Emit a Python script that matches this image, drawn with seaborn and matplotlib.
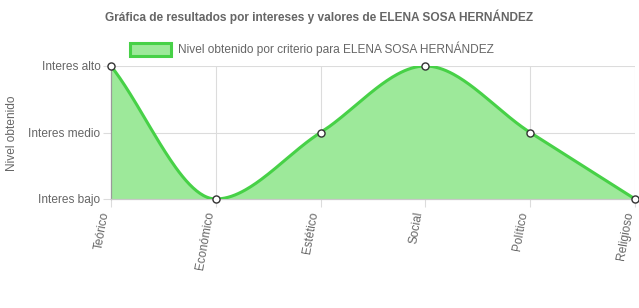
import numpy as np
import pandas as pd
import matplotlib
matplotlib.use("Agg")
import matplotlib.pyplot as plt
import seaborn as sns

title = "Gráfica de resultados por intereses y valores de ELENA SOSA HERNÁNDEZ"
series_name = "Nivel obtenido por criterio para ELENA SOSA HERNÁNDEZ"
categories = ["Teórico", "Económico", "Estético", "Social", "Político", "Religioso"]
values = [3, 1, 2, 3, 2, 1]
level_values = [1, 2, 3]
level_labels = ["Interes bajo", "Interes medio", "Interes alto"]
y_label = "Nivel obtenido"

LINE = "#47d147"
FILL = "#9de99a"
GRID = "#dcdcdc"
TXT = "#666666"
FS = 8.6


def monotone_curve(xs, ys, n=60):
    """Chart.js-style monotone cubic interpolation."""
    xs = np.asarray(xs, float)
    ys = np.asarray(ys, float)
    k = len(xs)
    delta = np.diff(ys) / np.diff(xs)
    m = np.zeros(k)
    m[0] = delta[0]
    m[-1] = delta[-1]
    for i in range(1, k - 1):
        if delta[i - 1] * delta[i] <= 0:
            m[i] = 0
        else:
            m[i] = (delta[i - 1] + delta[i]) / 2
    for i in range(k - 1):
        if delta[i] == 0:
            m[i] = m[i + 1] = 0
            continue
        a = m[i] / delta[i]
        b = m[i + 1] / delta[i]
        s = a * a + b * b
        if s > 9:
            t = 3 / np.sqrt(s)
            m[i] = a * t * delta[i]
            m[i + 1] = b * t * delta[i]
    ox, oy = [], []
    for i in range(k - 1):
        h = xs[i + 1] - xs[i]
        t = np.linspace(0, 1, n, endpoint=(i == k - 2))
        h00 = 2 * t**3 - 3 * t**2 + 1
        h10 = t**3 - 2 * t**2 + t
        h01 = -2 * t**3 + 3 * t**2
        h11 = t**3 - t**2
        ox.append(xs[i] + t * h)
        oy.append(h00 * ys[i] + h10 * h * m[i] + h01 * ys[i + 1] + h11 * h * m[i + 1])
    return np.concatenate(ox), np.concatenate(oy)


sns.set_theme(style="white")
plt.rcParams["font.family"] = ["Liberation Sans", "DejaVu Sans"]

fig = plt.figure(figsize=(6.39, 3.08), dpi=100)
ax = fig.add_axes([111 / 639, 1 - 199 / 308, (635 - 111) / 639, (199 - 66) / 308])

xpos = np.arange(len(categories))
cx, cy = monotone_curve(xpos, values)
curve = pd.DataFrame({"x": cx, "y": cy})
pts = pd.DataFrame({"x": xpos, "y": values})

ax.fill_between(cx, cy, 1, color=FILL, lw=0, zorder=2)
sns.lineplot(data=curve, x="x", y="y", ax=ax, color=LINE, lw=2.2, zorder=3,
             estimator=None, sort=False)
sns.scatterplot(data=pts, x="x", y="y", ax=ax, s=26, color="white",
                edgecolor="#333333", linewidth=1.0, zorder=5, clip_on=False)

ax.set_xlim(0, len(categories) - 1)
ax.set_ylim(1, 3)
ax.set_xticks(xpos)
ax.set_xticklabels(categories, rotation=80, ha="right", va="bottom",
                   rotation_mode="anchor", color=TXT, fontsize=FS)
ax.set_yticks(level_values)
ax.set_yticklabels(level_labels, color=TXT, fontsize=FS)
ax.set_xlabel("")
ax.set_ylabel("")

ax.grid(True, color=GRID, lw=0.8, zorder=0)
ax.set_axisbelow(True)
for s in ["top", "right"]:
    ax.spines[s].set_visible(False)
ax.spines["left"].set_color("#9a9a9a")
ax.spines["bottom"].set_color("#c8c8c8")
ax.spines["left"].set_linewidth(0.9)
ax.spines["bottom"].set_linewidth(0.9)
ax.tick_params(axis="both", which="major", length=6, width=0.8, color=GRID,
               direction="out", left=True, bottom=True)
ax.tick_params(axis="y", pad=1.5)
ax.tick_params(axis="x", pad=4)

fig.text(12 / 639, 1 - 133 / 308, y_label, rotation=90, ha="center", va="center",
         fontsize=FS, color=TXT)

fig.text(0.5, 1 - 17 / 308, title, ha="center", va="center",
         fontsize=FS, fontweight="bold", color=TXT)

# legend
fig.patches.append(plt.Rectangle((130 / 639, 1 - 56 / 308), 41 / 639, 13 / 308,
                                 transform=fig.transFigure, facecolor=FILL,
                                 edgecolor=LINE, lw=2.2))
fig.text(178 / 639, 1 - 49 / 308, series_name, ha="left", va="center",
         fontsize=FS, color=TXT)

fig.savefig("out.png", dpi=100)
